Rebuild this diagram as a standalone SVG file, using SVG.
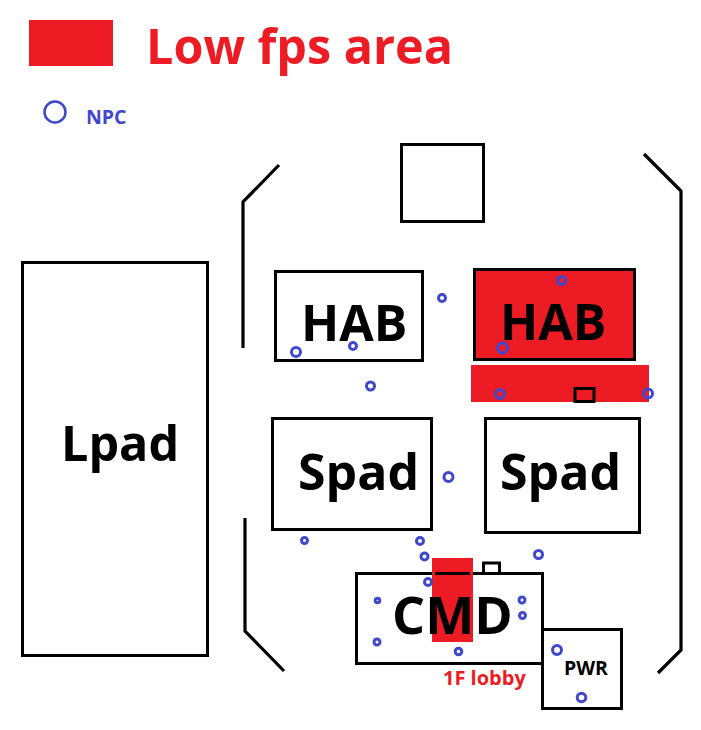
<svg xmlns="http://www.w3.org/2000/svg" width="701" height="730" viewBox="0 0 701 730">
<style>
text{font-family:"Open Sans","Noto Sans","Liberation Sans",sans-serif;font-weight:700}
.b{fill:none;stroke:#000;stroke-width:3.2}
.w{fill:#fff;stroke:#000;stroke-width:3}
.r{fill:#ed1c24}
.n{fill:none;stroke:#3f48cc;stroke-width:3}
.big{font-size:50px;fill:#000}
</style>
<rect width="701" height="730" fill="#fff"/>
<g id="legend">
<rect class="r" x="29" y="20" width="84" height="46"/>
<text x="146" y="64" font-size="48.500" style="fill:#ed1c24">Low fps area</text>
<circle cx="55" cy="112" r="10.500" fill="none" stroke="#3f48cc" stroke-width="2.500"/>
<text x="86" y="124" font-size="19.500" style="fill:#3f48cc">NPC</text>
</g>
<g id="walls">
<path class="b" d="M279 165L243 202V348"/>
<path class="b" d="M245 518V631L284 671"/>
<path class="b" d="M644 154L681 191V650L658 673"/>
</g>
<g id="tower"><rect class="w" x="401.500" y="144.500" width="82" height="77"/></g>
<g id="lpad"><rect class="w" x="22.500" y="262.500" width="185" height="393"/><text class="big" x="61" y="461" style="font-size:48.500px">Lpad</text></g>
<g id="hab1"><rect class="w" x="275.500" y="271.500" width="147" height="89"/><text class="big" x="301" y="341">HAB</text></g>
<g id="hab2"><rect x="474.500" y="269.500" width="160" height="90" fill="#ed1c24" stroke="#000" stroke-width="3"/><text class="big" x="500" y="340">HAB</text></g>
<g id="low-strip"><rect class="r" x="471" y="365" width="178" height="37"/><rect x="575" y="388.500" width="19" height="13" fill="#ed1c24" stroke="#000" stroke-width="3"/></g>
<g id="spad1"><rect class="w" x="272.500" y="418.500" width="159" height="111"/><text class="big" x="298" y="490">Spad</text></g>
<g id="spad2"><rect class="w" x="485.500" y="418.500" width="154" height="114"/><text class="big" x="500" y="490">Spad</text></g>
<g id="cmd">
<rect x="483.500" y="563" width="16" height="11" fill="#fff" stroke="#000" stroke-width="3"/>
<rect class="w" x="356.500" y="573.500" width="186" height="90"/>
<rect class="r" x="432" y="558" width="41" height="84"/>
<path d="M435 573.500H470" stroke="#000" stroke-width="3"/>
<text class="big" x="392" y="634" style="font-size:52px">CMD</text>
<text x="443" y="685" font-size="20" style="fill:#ed1c24">1F lobby</text>
</g>
<g id="pwr"><rect class="w" x="542.500" y="629.500" width="79" height="79"/><text x="564" y="675" font-size="19.500">PWR</text></g>
<g id="npcs">
<circle class="n" cx="442" cy="298" r="3.500"/>
<circle class="n" cx="561.500" cy="280.500" r="4"/>
<circle class="n" cx="296" cy="352" r="4.500"/>
<circle class="n" cx="353" cy="346" r="3.500"/>
<circle class="n" cx="502.500" cy="348" r="5"/>
<circle class="n" cx="370.500" cy="386" r="4"/>
<circle class="n" cx="500" cy="394" r="4.500"/>
<circle class="n" cx="648" cy="393.500" r="4.500"/>
<circle class="n" cx="448.500" cy="477" r="4.500"/>
<circle class="n" cx="304.500" cy="540.500" r="3"/>
<circle class="n" cx="420" cy="541" r="3.500"/>
<circle class="n" cx="424.500" cy="556.500" r="3.500"/>
<circle class="n" cx="538.500" cy="554.500" r="4"/>
<circle class="n" cx="428" cy="582" r="3.500"/>
<circle class="n" cx="377.500" cy="600.500" r="2.300"/>
<circle class="n" cx="522" cy="600" r="3"/>
<circle class="n" cx="522.500" cy="615.500" r="3"/>
<circle class="n" cx="377" cy="642" r="3"/>
<circle class="n" cx="458.500" cy="651.500" r="3.300"/>
<circle class="n" cx="557" cy="650" r="4.500"/>
<circle class="n" cx="581.500" cy="697.500" r="4.300"/>
</g>
</svg>
